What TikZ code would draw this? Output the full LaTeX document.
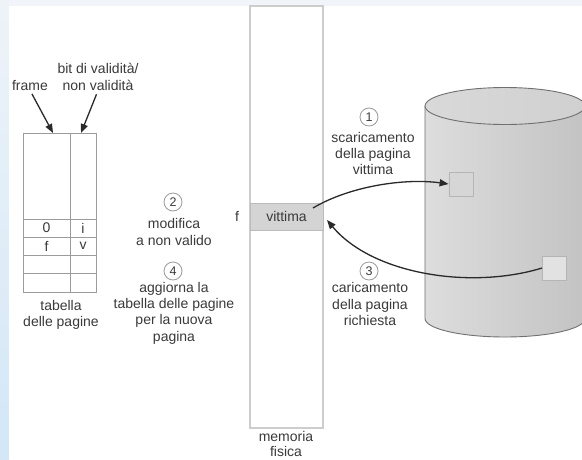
\documentclass[tikz,border=0pt]{standalone}
\usepackage{fontspec}
\setmainfont{Liberation Sans}
\usetikzlibrary{arrows.meta,calc}
\definecolor{txt}{HTML}{3A3A3A}
\definecolor{arrc}{HTML}{2A2A2A}
\definecolor{numc}{HTML}{9A9A9A}
\definecolor{tabc}{HTML}{9C9C9C}
\definecolor{memc}{HTML}{CDCDCD}
\definecolor{vicfill}{HTML}{D4D4D4}
\definecolor{vicline}{HTML}{BBBBBB}
\definecolor{cylL}{HTML}{DDDDDD}
\definecolor{cylR}{HTML}{C3C3C3}
\definecolor{topL}{HTML}{D9D9D9}
\definecolor{topM}{HTML}{E6E6E6}
\definecolor{topR}{HTML}{D0D0D0}
\definecolor{cylline}{HTML}{707070}
\definecolor{sqfill}{HTML}{D6D6D6}
\definecolor{sqline}{HTML}{B5B5B5}
\definecolor{bgtop}{HTML}{F1F5F9}
\definecolor{bgL1}{HTML}{EEF3F8}
\definecolor{bgL2}{HTML}{D3E7F7}
\begin{document}
\begin{tikzpicture}[x=1pt,y=-1pt,
  lbl/.style={font=\fontsize{14}{16.3}\selectfont, text=txt, align=center, inner sep=0pt},
  num/.style={circle, draw=numc, line width=0.8pt, minimum size=18pt, inner sep=0pt,
              font=\fontsize{12.5}{14}\selectfont, text=txt},
  arr/.style={line width=1.3pt, draw=arrc, -{Triangle[length=9pt,width=7pt]}},
  cellline/.style={draw=tabc, line width=0.9pt},
  disksq/.style={draw=sqline, fill=sqfill, line width=0.8pt, minimum size=24pt, inner sep=0pt}]
\useasboundingbox (0,0) rectangle (582,459);
\clip (0,0) rectangle (582,459);

% page background
\fill[bgtop] (0,0) rectangle (582,6);
\shade[top color=bgL1, bottom color=bgL2] (0,0) rectangle (9,459);
\fill[white] (9,6) rectangle (582,459);

% page table
\node[cellline, minimum width=73pt, minimum height=159pt, inner sep=0pt] (pt) at (59.5,212.5) {};
\draw[cellline] (70,133) -- (70,292);
\foreach \yy in {219,237,255,273} \draw[cellline] (23,\yy) -- (96,\yy);
\node[lbl] (c0) at (46.5,228) {0};
\node[lbl] (ci) at (83,228) {i};
\node[lbl] (cf) at (46.5,246) {f};
\node[lbl] (cv) at (83,246) {v};
\node[lbl] (ptlabel) at (61,315) {tabella\\delle pagine};

% labels of the table columns
\node[lbl] (lframe) at (30,85) {frame};
\node[lbl] (lbit) at (98,77) {bit di validità/\\non validità};
\coordinate (ftip) at (53,133);
\coordinate (btip) at (81,133);
\draw[arr, shorten <=4pt] (lframe.south) -- (ftip);
\draw[arr, shorten <=4pt] (lbit.south) -- (btip);

% steps 2 and 4
\node[num] (n2) at (173,202) {2};
\node[lbl] (t2) at (174,232) {modifica\\a non valido};
\node[num] (n4) at (173,271) {4};
\node[lbl] (t4) at (174,313) {aggiorna la\\tabella delle pagine\\per la nuova\\pagina};

% physical memory
\node[draw=memc, line width=1.5pt, minimum width=73pt, minimum height=422pt, inner sep=0pt] (mem) at (286.5,217) {};
\node[draw=vicline, fill=vicfill, line width=0.8pt, minimum width=73pt, minimum height=27pt, inner sep=0pt,
      font=\fontsize{14}{16}\selectfont, text=txt] (vit) at (286.5,216.5) {vittima};
\node[lbl] (fl) at (237,216) {f};
\node[lbl, font=\fontsize{14}{14.5}\selectfont] (memlabel) at (286,444) {memoria\\fisica};

% disk
\shade[left color=cylL, right color=cylR] (425,106) -- (425,318.5)
  arc[start angle=180, end angle=360, x radius=80pt, y radius=18.5pt] -- (585,106) -- cycle;
\draw[cylline, line width=0.9pt] (425,106) -- (425,318.5)
  arc[start angle=180, end angle=360, x radius=80pt, y radius=18.5pt] -- (585,106);
\shadedraw[left color=topL, middle color=topM, right color=topR, draw=cylline, line width=0.9pt]
  (505,106) ellipse [x radius=80pt, y radius=18.5pt];
\node[disksq] (sq1) at (461,184) {};
\node[disksq, fill=sqfill!70!white] (sq2) at (554.5,268) {};

% steps 1 and 3
\node[num] (n1) at (369,117) {1};
\node[lbl] (t1) at (373,153.5) {scaricamento\\della pagina\\vittima};
\node[num] (n3) at (369,271) {3};
\node[lbl] (t3) at (370,304) {caricamento\\della pagina\\richiesta};

% page transfers
\coordinate (outstart) at (313,208);
\coordinate (intip) at (327,220);
\draw[arr] (outstart) .. controls (350,186) and (405,178) .. (sq1.west);
\draw[arr] (sq2.west) .. controls (470,290) and (372,274) .. (intip);
\end{tikzpicture}
\end{document}
